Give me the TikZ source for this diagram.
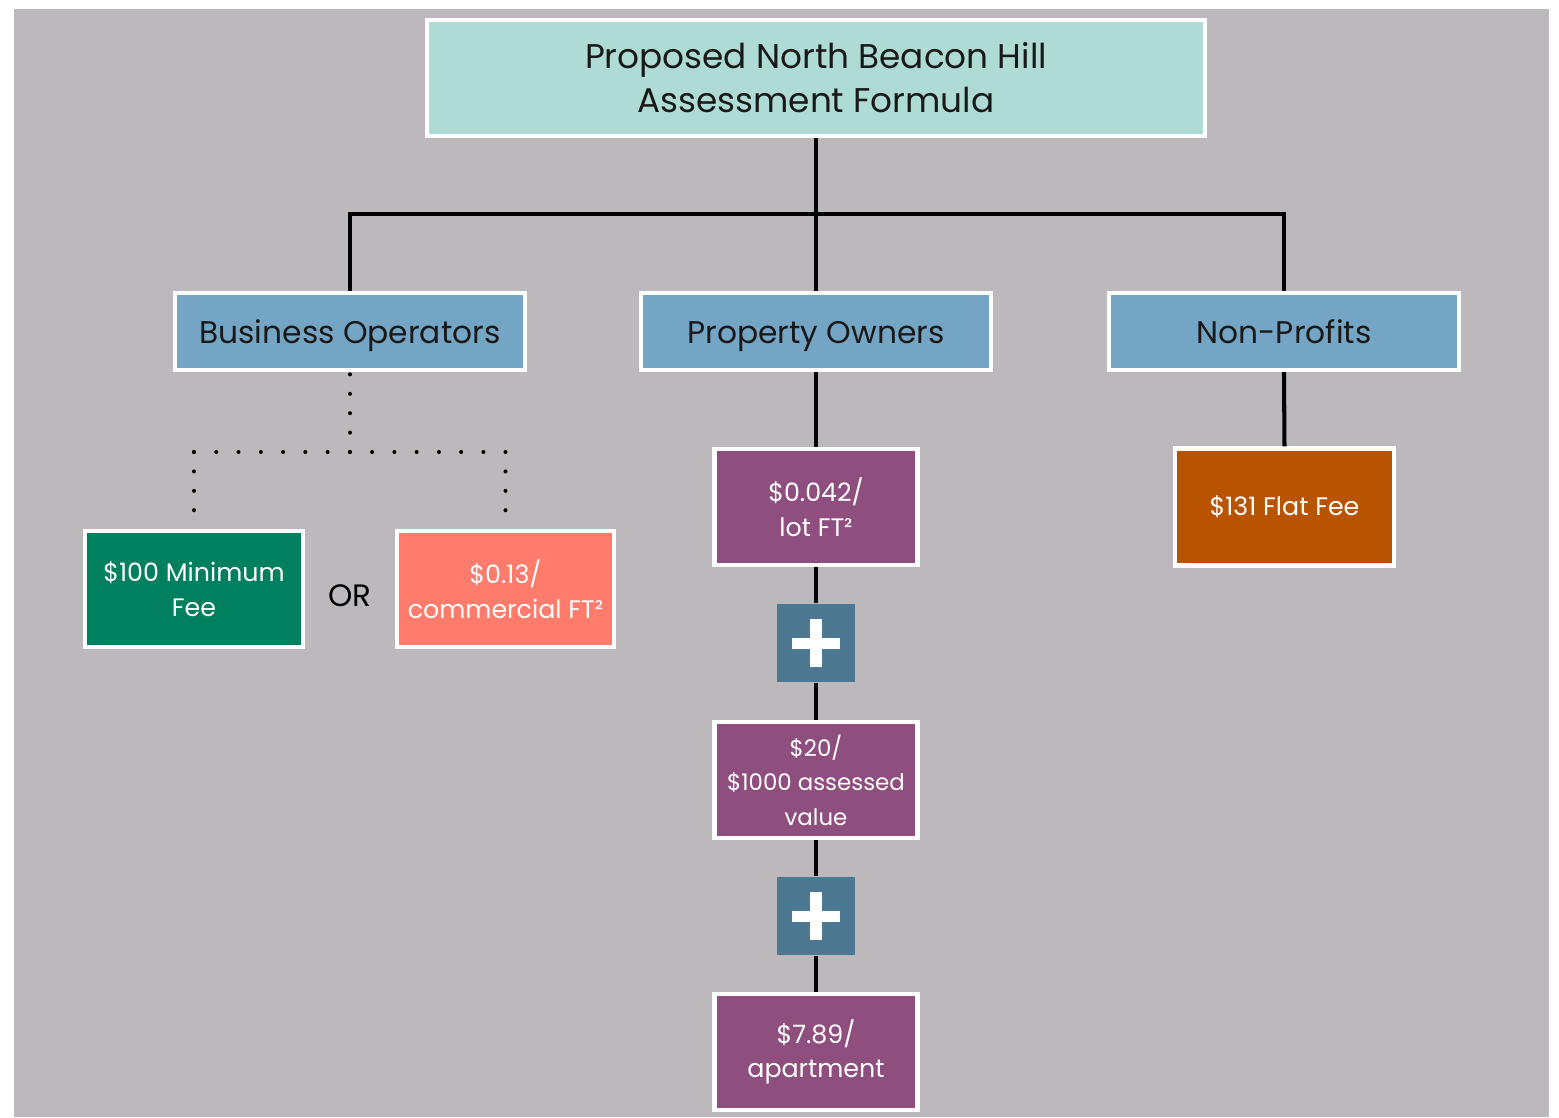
\documentclass[tikz,border=0pt]{standalone}
\usepackage{fontspec}
\setmainfont{Poppins}
\definecolor{bggray}{HTML}{BDB8BC}
\definecolor{headteal}{HTML}{AEDCD5}
\definecolor{groupblue}{HTML}{74A5C4}
\definecolor{feegreen}{HTML}{00805F}
\definecolor{feesalmon}{HTML}{FF7B6C}
\definecolor{feepurple}{HTML}{8E4F7E}
\definecolor{feeorange}{HTML}{B85400}
\definecolor{plusblue}{HTML}{4C7892}

\begin{document}
\begin{tikzpicture}[x=0.01cm,y=-0.01cm,line join=miter,
  box/.style={draw=white,line width=1.2pt,inner sep=0pt,align=center},
  headbox/.style={box,fill=headteal,text=black!90,minimum width=7.78cm,minimum height=1.16cm,font=\fontsize{9.75}{12.5}\selectfont},
  groupbox/.style={box,fill=groupblue,text=black!90,minimum width=3.50cm,minimum height=0.77cm,text height=0.9em,text depth=0.22em,font=\fontsize{8.9}{11}\selectfont},
  feebox/.style={box,text=white,minimum height=1.16cm,font=\fontsize{7.2}{9.8}\selectfont},
  plusbox/.style={fill=plusblue,minimum size=0.78cm,inner sep=0pt,
    path picture={
      \fill[white] ([xshift=-0.235cm,yshift=-0.055cm]path picture bounding box.center) rectangle ([xshift=0.235cm,yshift=0.055cm]path picture bounding box.center);
      \fill[white] ([xshift=-0.055cm,yshift=-0.235cm]path picture bounding box.center) rectangle ([xshift=0.055cm,yshift=0.235cm]path picture bounding box.center);
    }},
  link/.style={line width=1.15pt,black},
  dotlink/.style={line width=1.15pt,black,line cap=round,dash pattern=on 0pt off #1}]
  \useasboundingbox (0,0) rectangle (1559,1117);
  \fill[bggray] (14,9) rectangle (1549,1117);

  % top
  \node[headbox] (title) at (816,78) {Proposed North Beacon Hill\\Assessment Formula};
  \coordinate (split) at (816,214);

  % groups
  \node[groupbox] (bus) at (350,331.5) {Business Operators};
  \node[groupbox] (prop) at (816,331.5) {Property Owners};
  \node[groupbox] (nonp) at (1284,331.5) {Non-Profits};

  % business operators
  \node[feebox,fill=feegreen,minimum width=2.18cm] (minfee) at (194,589) {\$100 Minimum\\Fee};
  \node[feebox,fill=feesalmon,minimum width=2.17cm] (comm) at (505.5,589) {\$0.13/\\commercial FT²};
  \node[font=\fontsize{8.8}{10}\selectfont,text=black] (or) at (350,596) {OR};
  \coordinate (dsplit) at (350,452);
  \coordinate (dleft) at (194,452);
  \coordinate (dright) at (505.5,452);

  % property owners
  \node[feebox,fill=feepurple,minimum width=2.03cm] (lot) at (816,507) {\$0.042/\\lot FT²};
  \node[plusbox] (plusa) at (816,643) {};
  \node[feebox,fill=feepurple,minimum width=2.03cm,font=\fontsize{6.5}{9.8}\selectfont] (assess) at (816,780) {\$20/\\\$1000 assessed\\value};
  \node[plusbox] (plusb) at (816,916) {};
  \node[feebox,fill=feepurple,minimum width=2.03cm] (apt) at (816,1052) {\$7.89/\\apartment};

  % non-profits
  \node[feebox,fill=feeorange,minimum width=2.19cm,minimum height=1.17cm] (flat) at (1284.5,507) {\$131 Flat Fee};

  \draw[link] (title.south) -- (prop.north);
  \draw[link] (bus.north) |- (split) -| (nonp.north);
  \draw[link] (prop.south) -- (lot.north);
  \draw[link] (lot.south) -- (plusa.north);
  \draw[link] (plusa.south) -- (assess.north);
  \draw[link] (assess.south) -- (plusb.north);
  \draw[link] (plusb.south) -- (apt.north);
  \draw[link] (nonp.south) -- (flat.north);

  \draw[dotlink=0.194cm] (dsplit) -- (bus.south);
  \draw[dotlink=0.2225cm] (dleft) -- (dright);
  \draw[dotlink=0.194cm] (dleft) -- (minfee.north);
  \draw[dotlink=0.194cm] (dright) -- (comm.north);
\end{tikzpicture}
\end{document}
